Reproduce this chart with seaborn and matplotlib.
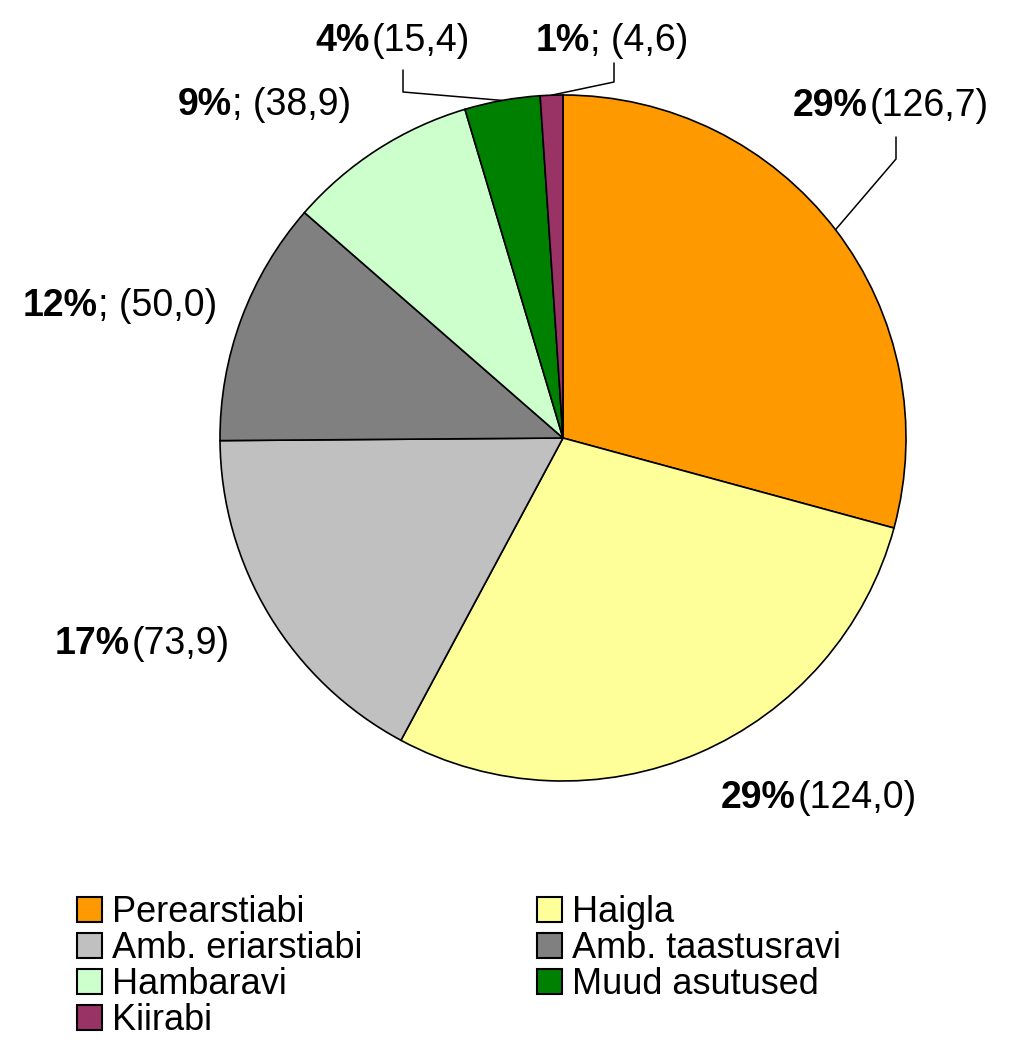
import matplotlib
matplotlib.use("Agg")
import numpy as np
import matplotlib.pyplot as plt
import seaborn as sns
from matplotlib.patches import Patch

sns.set_theme(style="white")
plt.rcParams['font.family'] = ['Liberation Sans', 'DejaVu Sans']
plt.rcParams['text.color'] = 'black'

categories = ["Perearstiabi", "Haigla", "Amb. eriarstiabi", "Amb. taastusravi",
              "Hambaravi", "Muud asutused", "Kiirabi"]
values = [126.7, 124.0, 73.9, 50.0, 38.9, 15.4, 4.6]
value_labels = ["(126,7)", "(124,0)", "(73,9)", "; (50,0)", "; (38,9)", "(15,4)", "; (4,6)"]
colors = ["#FF9900", "#FFFF99", "#C0C0C0", "#808080", "#CCFFCC", "#008000", "#993366"]

W, H = 1012, 1055


def py(y):
    # image y (top down) -> axes y (bottom up)
    return H - y


fig = plt.figure(figsize=(W / 100, H / 100), dpi=100)
ax = fig.add_axes([0, 0, 1, 1])

cx, cy, r = 563, py(438), 343
wedges, _ = ax.pie(values, colors=colors, startangle=90, counterclock=False,
                   center=(cx, cy), radius=r,
                   wedgeprops=dict(edgecolor="black", linewidth=1.2))
ax.set_xlim(0, W)
ax.set_ylim(0, H)
ax.set_aspect("equal")
ax.axis("off")

total = sum(values)
pcts = [f"{round(v / total * 100):.0f}%" for v in values]

# label anchor: x where bold part ends / normal part starts, y centre (image px)
label_pos = [(868, 106), (796, 798), (130, 644), (98, 306), (232, 105), (370, 41), (590, 41)]
for p, vl, (x, y) in zip(pcts, value_labels, label_pos):
    ax.text(x, py(y), p, ha="right", va="center", fontsize=27, fontweight="bold")
    gap = 0 if vl.startswith(";") else 2
    ax.text(x + gap, py(y), vl, ha="left", va="center", fontsize=27)

# leader lines: elbow points (image px) then wedge edge midpoint
leaders = {0: [(896, 137), (896, 159)], 5: [(403, 70), (403, 92)], 6: [(614, 63), (614, 82)]}
for i, pts in leaders.items():
    w = wedges[i]
    mid = np.deg2rad((w.theta1 + w.theta2) / 2)
    ex, ey = cx + r * np.cos(mid), cy + r * np.sin(mid)
    xs = [p[0] for p in pts] + [ex]
    ys = [py(p[1]) for p in pts] + [ey]
    ax.plot(xs, ys, color="black", lw=1.1)

order = [0, 2, 4, 6, 1, 3, 5]
handles = [Patch(facecolor=colors[i], edgecolor="black", linewidth=1.5) for i in order]
labels = [categories[i] for i in order]
ax.legend(handles, labels, ncol=2, loc="upper left", bbox_to_anchor=(77 / W, 1 - 895 / H),
          frameon=False, fontsize=26, handlelength=0.68, handleheight=0.68,
          handletextpad=0.28, labelspacing=0.03, columnspacing=4.85, borderpad=0,
          borderaxespad=0)

fig.savefig("out.png", dpi=100, facecolor="white")
